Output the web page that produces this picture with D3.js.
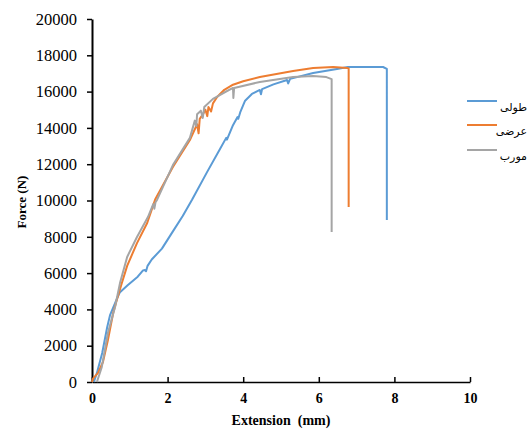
<!DOCTYPE html>
<html><head><meta charset="utf-8">
<script src="https://cdn.jsdelivr.net/npm/d3@7"></script>
<style>body{margin:0;background:#fff}svg{display:block}</style>
</head><body>
<script>
const seriesNames = ["طولی", "عرضی", "مورب"];
const seriesColors = ["#5B9BD5", "#ED7D31", "#A5A5A5"];
const xTicks = [0, 2, 4, 6, 8, 10];
const yTicks = [0, 2000, 4000, 6000, 8000, 10000, 12000, 14000, 16000, 18000, 20000];

const longX = [0.05,0.13,0.27,0.40,0.48,0.56,0.66,0.74,0.95,1.21,1.35,1.40,1.43,1.47,1.58,1.85,2.14,2.40,2.65,3.04,3.39,3.55,3.57,3.73,3.85,3.87,3.92,4.05,4.23,4.44,4.47,4.50,4.80,5.16,5.19,5.24,5.85,6.48,6.77,7.70,7.80,7.80];
const longF = [0,500,1600,3000,3700,4100,4600,4950,5350,5800,6150,6170,6100,6400,6750,7350,8300,9150,10050,11550,12850,13450,13350,14150,14600,14500,14850,15500,15870,16090,15850,16140,16400,16640,16450,16700,17020,17245,17355,17355,17250,8930];

const transX = [0,0.03,0.16,0.29,0.42,0.56,0.66,0.79,0.93,1.19,1.46,1.67,2.14,2.59,2.78,2.82,2.85,2.95,3.00,3.05,3.08,3.15,3.20,3.31,3.50,3.73,4.00,4.44,5.32,5.85,6.38,6.75,6.79,6.79];
const transF = [0,200,500,1100,2300,3800,4550,5450,6400,7650,8760,10050,11850,13330,14200,13700,14500,14800,15000,14650,15150,14900,15350,15700,16100,16380,16570,16800,17135,17300,17355,17300,17280,9640];

const diagX = [0.13,0.26,0.42,0.61,0.74,0.93,1.19,1.48,1.62,1.65,1.68,1.72,2.14,2.59,2.72,2.76,2.78,2.88,2.93,2.97,3.20,3.50,3.73,3.74,3.76,4.44,5.32,5.85,6.20,6.34,6.34];
const diagF = [0,830,2700,4130,5450,6890,7990,9090,9800,9550,9900,10030,11950,13450,14400,14100,14750,14950,14550,15150,15600,15950,16200,15650,16200,16530,16800,16860,16800,16690,8260];

const W = 532, H = 430;
const svg = d3.select("body").append("svg").attr("width", W).attr("height", H);
svg.append("rect").attr("width", W).attr("height", H).attr("fill", "#fff");

const x = d3.scaleLinear().domain([0, 10]).range([92, 470]);
const y = d3.scaleLinear().domain([0, 20000]).range([382, 19]);

// axes
const yAxis = svg.append("g").attr("transform", "translate(92,0)")
  .call(d3.axisLeft(y).tickValues(yTicks).tickSize(5).tickSizeOuter(0).tickPadding(10).tickFormat(d3.format("d")));
yAxis.select(".domain").attr("stroke", "#000").attr("stroke-width", 2);
yAxis.selectAll(".tick line").attr("stroke", "#000").attr("stroke-width", 1.5);
yAxis.selectAll(".tick text").attr("font-family", "'Liberation Serif', serif").attr("font-size", 16.5).attr("fill", "#000");

const xAxis = svg.append("g").attr("transform", "translate(0,382)")
  .call(d3.axisBottom(x).tickValues(xTicks).tickSize(-5).tickSizeOuter(0).tickPadding(11).tickFormat(d3.format("d")));
xAxis.select(".domain").attr("stroke", "#000").attr("stroke-width", 1.5);
xAxis.selectAll(".tick line").attr("stroke", "#000").attr("stroke-width", 1.5);
xAxis.selectAll(".tick text").attr("font-family", "'Liberation Serif', serif").attr("font-size", 14).attr("font-weight", "bold").attr("fill", "#000");

// lines
const line = d3.line().x(d => x(d[0])).y(d => y(d[1]));
const data = [
  d3.zip(longX, longF),
  d3.zip(transX, transF),
  d3.zip(diagX, diagF)
];
[0, 1, 2].forEach(i => {
  svg.append("path").datum(data[i]).attr("d", line)
    .attr("fill", "none").attr("stroke", seriesColors[i]).attr("stroke-width", 2)
    .attr("stroke-linejoin", "round");
});

// axis titles
svg.append("text").attr("x", 281).attr("y", 425).attr("text-anchor", "middle")
  .attr("font-family", "'Liberation Serif', serif").attr("font-size", 14).attr("font-weight", "bold")
  .style("white-space", "pre").text("Extension  (mm)");
svg.append("text").attr("transform", "translate(26,202) rotate(-90)").attr("text-anchor", "middle")
  .attr("font-family", "'Liberation Serif', serif").attr("font-size", 13).attr("font-weight", "bold")
  .text("Force (N)");

// legend
const legY = [101, 125, 150];
seriesNames.forEach((n, i) => {
  svg.append("line").attr("x1", 467).attr("x2", 497).attr("y1", legY[i]).attr("y2", legY[i])
    .attr("stroke", seriesColors[i]).attr("stroke-width", 2);
  svg.append("text").attr("x", 527).attr("y", legY[i] + 10).attr("text-anchor", "start")
    .attr("direction", "rtl")
    .attr("font-family", "'DejaVu Sans', sans-serif").attr("font-size", 11).attr("fill", "#000")
    .text(n);
});
</script>
</body></html>
